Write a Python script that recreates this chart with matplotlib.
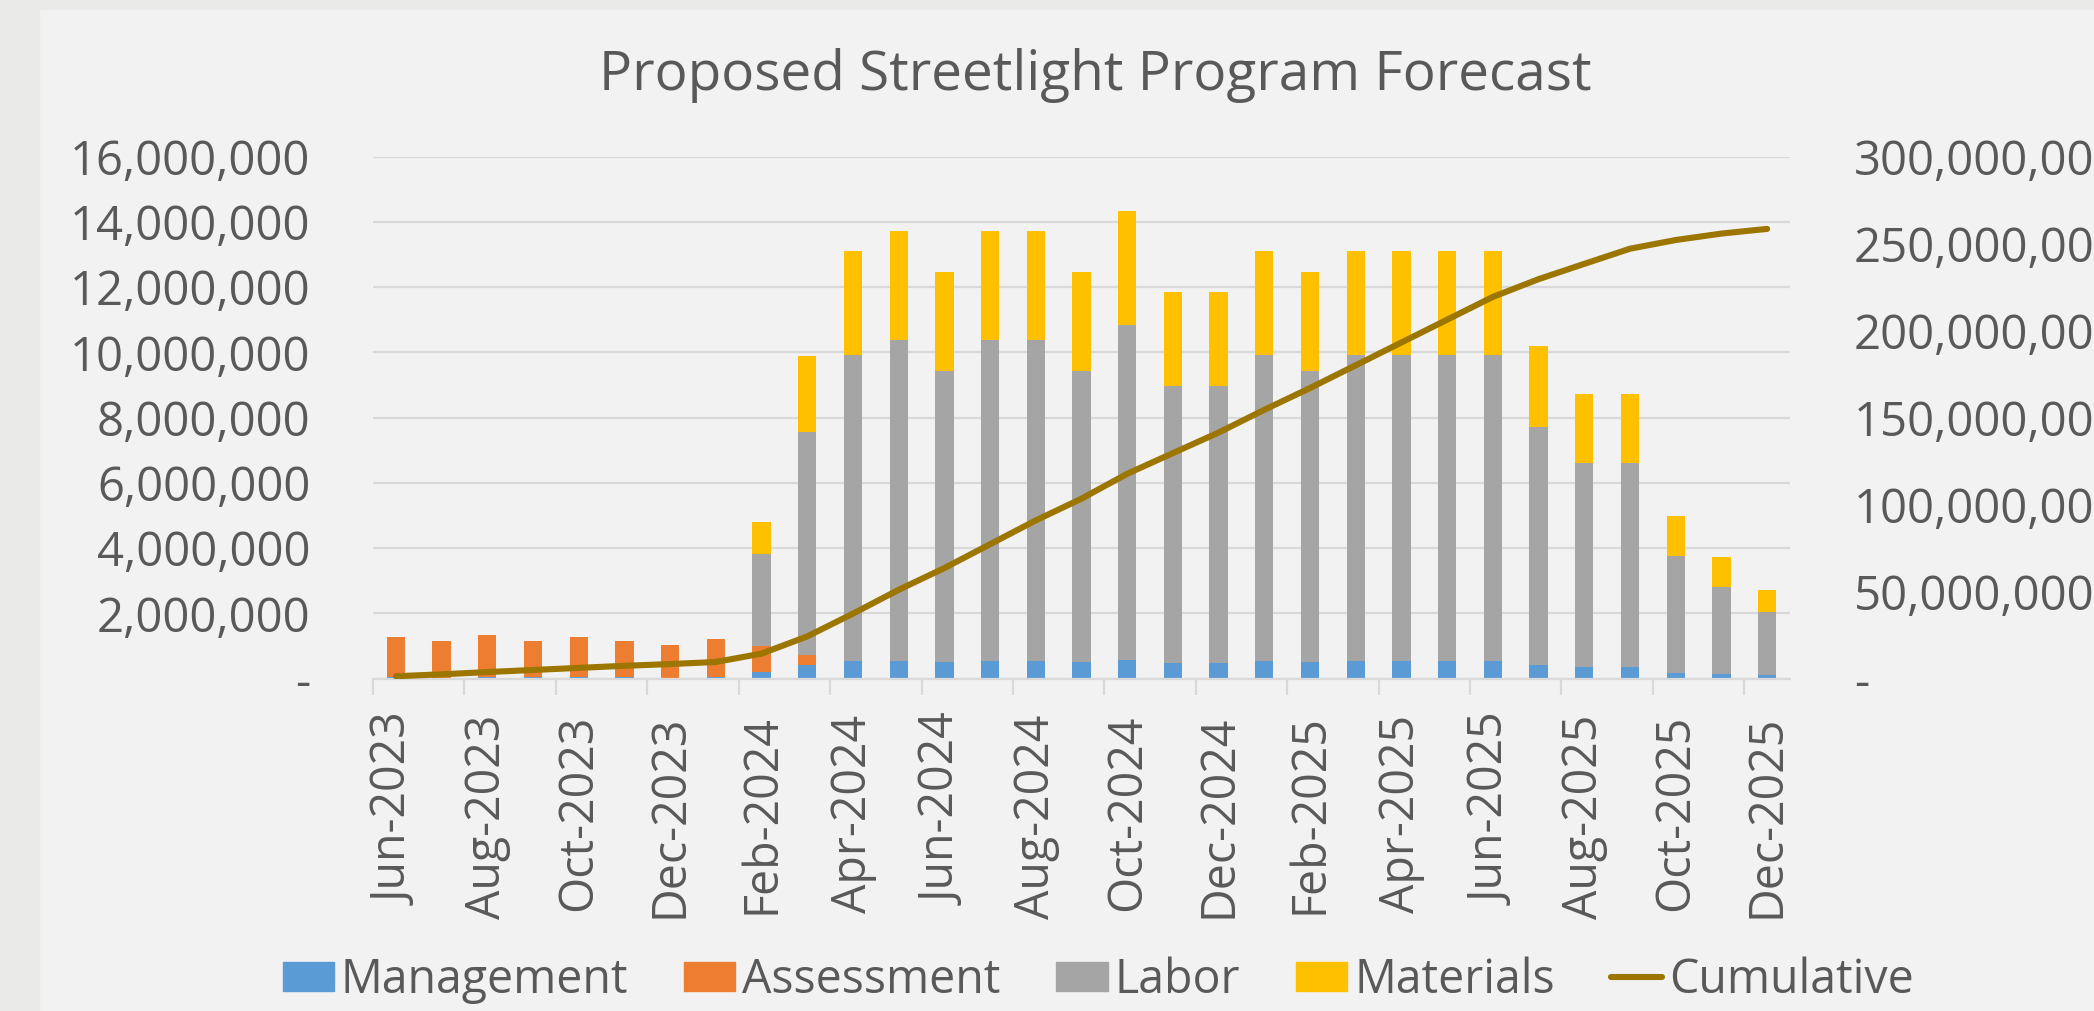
import numpy as np
import matplotlib
matplotlib.use("Agg")
import matplotlib.pyplot as plt
from matplotlib.patches import Patch, Rectangle
from matplotlib.lines import Line2D
from matplotlib.ticker import FuncFormatter, FixedLocator

plt.rcParams['font.family'] = ['Open Sans', 'DejaVu Sans']

# monthly spend, millions of dollars
months = ['Jun-2023', 'Jul-2023', 'Aug-2023', 'Sep-2023', 'Oct-2023', 'Nov-2023',
          'Dec-2023', 'Jan-2024', 'Feb-2024', 'Mar-2024', 'Apr-2024', 'May-2024',
          'Jun-2024', 'Jul-2024', 'Aug-2024', 'Sep-2024', 'Oct-2024', 'Nov-2024',
          'Dec-2024', 'Jan-2025', 'Feb-2025', 'Mar-2025', 'Apr-2025', 'May-2025',
          'Jun-2025', 'Jul-2025', 'Aug-2025', 'Sep-2025', 'Oct-2025', 'Nov-2025',
          'Dec-2025']
management = [0.06, 0.03, 0.06, 0.05, 0.06, 0.04, 0.03, 0.04, 0.19, 0.40, 0.54,
              0.55, 0.51, 0.55, 0.55, 0.51, 0.58, 0.49, 0.49, 0.54, 0.51, 0.55,
              0.55, 0.55, 0.55, 0.40, 0.36, 0.36, 0.18, 0.14, 0.10]
assessment = [1.20, 1.12, 1.26, 1.10, 1.20, 1.11, 1.01, 1.16, 0.81, 0.32, 0,
              0, 0, 0, 0, 0, 0, 0, 0, 0, 0, 0,
              0, 0, 0, 0, 0, 0, 0, 0, 0]
labor = [0, 0, 0, 0, 0, 0, 0, 0, 2.82, 6.84, 9.37,
         9.83, 8.92, 9.83, 9.83, 8.92, 10.27, 8.48, 8.48, 9.37, 8.92, 9.37,
         9.37, 9.37, 9.37, 7.32, 6.24, 6.24, 3.59, 2.68, 1.94]
materials = [0, 0, 0, 0, 0, 0, 0, 0, 0.97, 2.32, 3.19,
             3.34, 3.03, 3.34, 3.34, 3.03, 3.49, 2.88, 2.88, 3.19, 3.03, 3.19,
             3.19, 3.19, 3.19, 2.48, 2.13, 2.13, 1.21, 0.91, 0.66]
cumulative = [1.3, 2.4, 3.7, 4.9, 6.1, 7.3, 8.3, 9.5, 14.3, 24.2, 37.3,
              51.0, 63.5, 77.2, 90.9, 103.4, 117.7, 129.6, 141.4, 154.5, 167.0, 180.1,
              193.2, 206.3, 219.4, 229.6, 238.4, 247.1, 252.1, 255.8, 258.5]

series = [("Management", management, "#5B9BD5"),
          ("Assessment", assessment, "#ED7D31"),
          ("Labor", labor, "#A5A5A5"),
          ("Materials", materials, "#FFC000")]
line_color = "#9C7600"
text_color = "#595959"
grid_color = "#D9D9D9"
M = 1e6

W, H = 2094, 1011
fig = plt.figure(figsize=(W / 100, H / 100), dpi=100, facecolor="#F2F2F2")
# outer border strips of the slide
fig.patches.append(Rectangle((0, 0), 39 / W, 1, transform=fig.transFigure,
                             color="#EAEAE9", zorder=-10))
fig.patches.append(Rectangle((0, 1 - 9 / H), 1, 9 / H, transform=fig.transFigure,
                             color="#EAEAE9", zorder=-10))

x0, x1 = 373, 1790
ytop, ybot = 156.7, 678.5
ax = fig.add_axes([x0 / W, 1 - ybot / H, (x1 - x0) / W, (ybot - ytop) / H])
ax.set_facecolor("none")

x = np.arange(len(months))
bottom = np.zeros(len(months))
for name, vals, col in series:
    v = np.array(vals) * M
    ax.bar(x, v, 0.4, bottom=bottom, color=col, label=name, zorder=2)
    bottom += v

ax.set_xlim(-0.5, len(months) - 0.5)
ax.set_ylim(0, 16 * M)
ax.set_yticks(np.arange(0, 16.1, 2) * M)
ax.yaxis.set_major_formatter(FuncFormatter(lambda v, p: "-" if v == 0 else f"{v:,.0f}"))
ax.set_axisbelow(True)
ax.grid(axis="y", color=grid_color, lw=1.6)
for s in ["top", "right", "left"]:
    ax.spines[s].set_visible(False)
ax.spines["bottom"].set_color(grid_color)
ax.spines["bottom"].set_linewidth(1.6)
ax.tick_params(axis="y", length=0, pad=45, labelsize=34, labelcolor=text_color)

ax.set_xticks(x[::2])
ax.set_xticklabels(months[::2], rotation=90)
ax.xaxis.set_minor_locator(FixedLocator(np.arange(-0.5, len(months), 2)))
ax.tick_params(axis="x", which="major", length=0, pad=26, labelsize=33.5, labelcolor=text_color)
ax.tick_params(axis="x", which="minor", length=11.5, width=1.6, color=grid_color)

ax2 = ax.twinx()
ax2.plot(x, np.array(cumulative) * M, color=line_color, lw=4.4,
         solid_capstyle="round", solid_joinstyle="round", zorder=3)
ax2.set_ylim(0, 300 * M)
ax2.set_yticks(np.arange(0, 301, 50) * M)
ax2.yaxis.set_major_formatter(FuncFormatter(lambda v, p: "-" if v == 0 else f"{v:,.0f}"))
ax2.tick_params(axis="y", length=0, pad=46, labelsize=34, labelcolor=text_color)
for s in ax2.spines.values():
    s.set_visible(False)

fig.text(1095 / W, 1 - 90 / H, "Proposed Streetlight Program Forecast",
         ha="center", va="baseline", fontsize=39.5, color=text_color)

handles = [Patch(color=col, label=name) for name, vals, col in series]
handles.append(Line2D([0], [0], color=line_color, lw=4.4, solid_capstyle="round",
                      label="Cumulative"))
fig.legend(handles=handles, loc="center", bbox_to_anchor=(1098 / W, 1 - 980 / H),
           ncol=5, frameon=False, fontsize=33.5, labelcolor=text_color,
           handlelength=1.1, handleheight=0.6, handletextpad=0.15,
           columnspacing=1.2, borderaxespad=0, borderpad=0)

fig.savefig("out.png", dpi=100, facecolor=fig.get_facecolor())
